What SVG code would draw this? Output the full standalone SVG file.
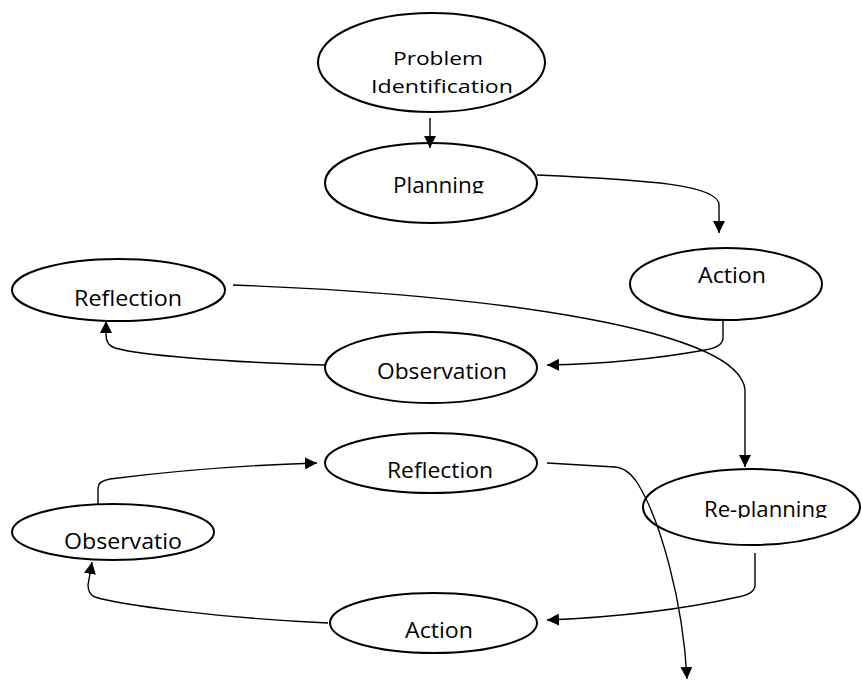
<svg xmlns="http://www.w3.org/2000/svg" width="862" height="680" viewBox="0 0 862 680">
<style>
.node{fill:#fff;stroke:#000;stroke-width:2}
.lbl{font-family:"Open Sans","Liberation Sans",sans-serif;font-size:22px;fill:#000}
.sm{font-size:19px}
.edge{fill:none;stroke:#000;stroke-width:1.4}
</style>
<defs>
<marker id="arr" markerUnits="userSpaceOnUse" markerWidth="14" markerHeight="12" refX="12" refY="6" orient="auto">
<path d="M0,0 L12,6 L0,12 Z" fill="#000"/>
</marker>
<clipPath id="clipPlan"><rect x="300" y="140" width="260" height="53.5"/></clipPath>
<clipPath id="clipRe"><rect x="640" y="460" width="222" height="58"/></clipPath>
</defs>
<rect width="862" height="680" fill="#fff"/>
<g id="n-problem">
<ellipse class="node" cx="431.5" cy="62.5" rx="113.5" ry="49.5"/>
<text class="lbl sm" x="393" y="65" textLength="90" lengthAdjust="spacingAndGlyphs">Problem</text>
<text class="lbl sm" x="371" y="93" textLength="142" lengthAdjust="spacingAndGlyphs">Identification</text>
</g>
<g id="n-planning">
<ellipse class="node" cx="431" cy="183" rx="106" ry="40"/>
<text class="lbl" x="393" y="193" textLength="91" lengthAdjust="spacingAndGlyphs" clip-path="url(#clipPlan)">Planning</text>
</g>
<g id="n-action1">
<ellipse class="node" cx="726" cy="284" rx="96" ry="36"/>
<text class="lbl" x="698" y="283" textLength="68" lengthAdjust="spacingAndGlyphs">Action</text>
</g>
<g id="n-reflection1">
<ellipse class="node" cx="118.5" cy="290" rx="106.5" ry="31"/>
<text class="lbl" x="74" y="306" textLength="108" lengthAdjust="spacingAndGlyphs">Reflection</text>
</g>
<g id="n-observation1">
<ellipse class="node" cx="431" cy="367.5" rx="106" ry="35.5"/>
<text class="lbl" x="377" y="379" textLength="130" lengthAdjust="spacingAndGlyphs">Observation</text>
</g>
<g id="n-reflection2">
<ellipse class="node" cx="431" cy="463" rx="106" ry="30"/>
<text class="lbl" x="387" y="478" textLength="106" lengthAdjust="spacingAndGlyphs">Reflection</text>
</g>
<g id="n-replanning">
<ellipse class="node" cx="751.5" cy="507" rx="108.5" ry="38"/>
<text class="lbl" x="704" y="517" textLength="123" lengthAdjust="spacingAndGlyphs" clip-path="url(#clipRe)">Re-planning</text>
</g>
<g id="n-observation2">
<ellipse class="node" cx="113" cy="532" rx="101" ry="28"/>
<text class="lbl" x="64" y="549" textLength="118" lengthAdjust="spacingAndGlyphs">Observatio</text>
</g>
<g id="n-action2">
<ellipse class="node" cx="433.5" cy="623" rx="103.5" ry="30"/>
<text class="lbl" x="405" y="638" textLength="68" lengthAdjust="spacingAndGlyphs">Action</text>
</g>
<g id="connectors">
<path class="edge" marker-end="url(#arr)" d="M430,118 L430,148"/>
<path class="edge" marker-end="url(#arr)" d="M537,175 C650,180 719,185 719,205 L719,233"/>
<path class="edge" marker-end="url(#arr)" d="M723,320 L723,338 Q723,347 705,350 C650,360 600,364 547,365"/>
<path class="edge" marker-end="url(#arr)" d="M325,365 C220,362 140,355 115,348 Q106,345 106,335 L106,321"/>
<path class="edge" marker-end="url(#arr)" d="M233,285 C500,295 740,330 745,390 L745,467"/>
<path class="edge" marker-end="url(#arr)" d="M98,504 L98,488 Q98,481 110,479 C180,470 250,465 317,463"/>
<path class="edge" marker-end="url(#arr)" d="M547,463 L615,467 Q628,468 638,484 C660,520 683,600 687,679"/>
<path class="edge" marker-end="url(#arr)" d="M755,553 L755,585 Q755,594 738,597 C680,610 620,617 547,620"/>
<path class="edge" marker-end="url(#arr)" d="M328,623 C220,618 120,605 95,597 Q88,594 88,585 L92,562"/>
</g>
</svg>
